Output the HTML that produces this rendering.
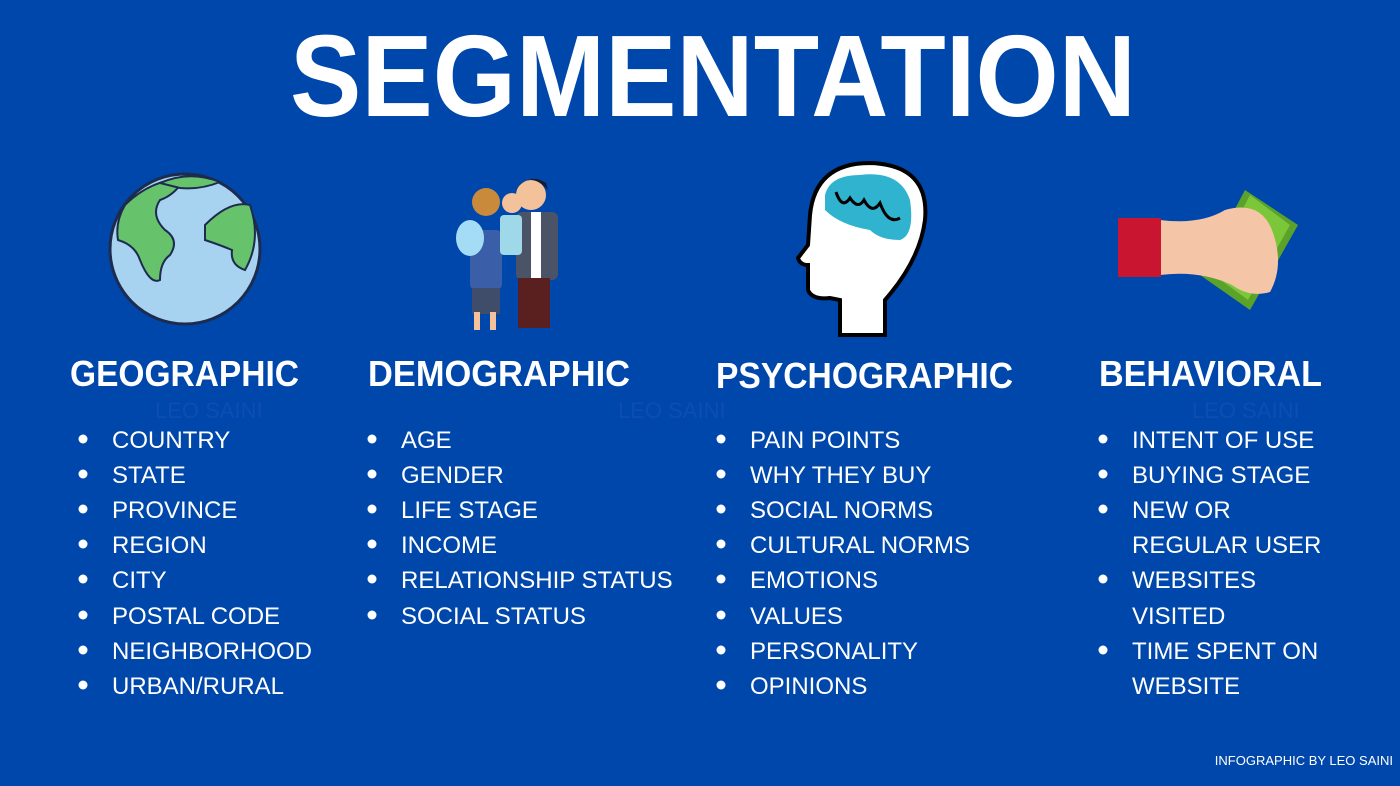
<!DOCTYPE html>
<html><head><meta charset="utf-8"><style>
html,body{margin:0;padding:0;background:#0047ab;}
svg{display:block}
text{font-family:"Liberation Sans",sans-serif;}
</style></head><body>
<svg width="1400" height="786" viewBox="0 0 1400 786" xmlns="http://www.w3.org/2000/svg">
<rect width="1400" height="786" fill="#0047ab"/>
<text x="290" y="116" font-size="116" font-weight="bold" fill="#fff" textLength="846" lengthAdjust="spacingAndGlyphs">SEGMENTATION</text>

<!-- globe -->
<circle cx="185" cy="249" r="75" fill="#a7d3f0" stroke="#1d2b4f" stroke-width="3"/>
<path d="M125 205 Q150 180 185 178 Q175 195 160 200 Q150 215 165 230 Q180 240 170 255 Q160 262 160 280 Q150 285 140 260 Q135 245 118 240 Q115 222 125 205Z" fill="#67c36b" stroke="#1d2b4f" stroke-width="2"/>
<path d="M205 225 Q230 200 250 205 Q262 240 245 270 Q230 265 232 250 Q220 245 205 240Z" fill="#67c36b" stroke="#1d2b4f" stroke-width="2"/>
<path d="M160 183 Q190 170 220 182 Q200 190 180 188Z" fill="#67c36b" stroke="#1d2b4f" stroke-width="2"/>

<!-- family -->
<g>
<circle cx="486" cy="202" r="14" fill="#c98a3c"/>
<rect x="470" y="230" width="32" height="60" rx="6" fill="#3a5fa8"/>
<rect x="472" y="288" width="28" height="26" fill="#3f4d6b"/>
<rect x="474" y="312" width="6" height="18" fill="#f3c19a"/><rect x="490" y="312" width="6" height="18" fill="#f3c19a"/>
<ellipse cx="470" cy="238" rx="14" ry="18" fill="#a5dcf5"/>
<circle cx="531" cy="195" r="15" fill="#f3c19a"/><path d="M515 190 Q530 170 548 190 L546 183 Q530 172 515 190Z" fill="#1a1a2a"/>
<rect x="516" y="212" width="42" height="68" rx="6" fill="#4a5466"/>
<rect x="531" y="212" width="10" height="68" fill="#fff"/>
<rect x="518" y="278" width="32" height="50" fill="#5a2020"/>
<circle cx="512" cy="203" r="10" fill="#f3c19a"/>
<rect x="500" y="215" width="22" height="40" rx="4" fill="#9fd8e8"/>
</g>

<!-- head -->
<path d="M885 335 L885 300 Q920 260 925 220 Q930 165 870 163 Q815 163 810 215 L808 245 L798 258 Q800 265 808 265 L808 290 Q812 300 830 298 L840 300 L840 335Z" fill="#fff" stroke="#000" stroke-width="4"/>
<path d="M825 195 Q830 175 860 175 Q900 170 910 200 Q915 235 900 240 Q880 240 870 230 Q840 225 825 210Z" fill="#2fb3cf"/>
<path d="M836 192 Q842 210 850 198 Q858 210 864 200 Q872 215 880 203 Q888 225 900 218" fill="none" stroke="#000" stroke-width="3"/>

<!-- hand money -->
<polygon points="1245,190 1298,225 1250,310 1200,275" fill="#5aa22a"/>
<polygon points="1250,195 1290,225 1248,300 1210,272" fill="#7cc63a"/>
<path d="M1160 220 Q1200 225 1225 210 Q1260 200 1272 230 Q1285 265 1270 292 Q1250 298 1232 285 Q1200 270 1160 275Z" fill="#f5c5a8"/>
<rect x="1118" y="218" width="43" height="59" fill="#c9152f"/>

<g font-weight="bold" fill="#fff" font-size="36">
<text x="70" y="386" textLength="229" lengthAdjust="spacingAndGlyphs">GEOGRAPHIC</text>
<text x="368" y="386" textLength="262" lengthAdjust="spacingAndGlyphs">DEMOGRAPHIC</text>
<text x="716" y="388" textLength="297" lengthAdjust="spacingAndGlyphs">PSYCHOGRAPHIC</text>
<text x="1099" y="386" textLength="223" lengthAdjust="spacingAndGlyphs">BEHAVIORAL</text>
</g>
<g fill="#0c4eb2" font-size="22">
<text x="155" y="418">LEO SAINI</text>
<text x="618" y="418">LEO SAINI</text>
<text x="1192" y="418">LEO SAINI</text>
</g>

<g fill="#fff" font-size="24">
<g>
<text x="112" y="448">COUNTRY</text><text x="112" y="483">STATE</text><text x="112" y="518">PROVINCE</text><text x="112" y="553">REGION</text><text x="112" y="588">CITY</text><text x="112" y="624">POSTAL CODE</text><text x="112" y="659">NEIGHBORHOOD</text><text x="112" y="694">URBAN/RURAL</text>
</g>
<g>
<text x="401" y="448">AGE</text><text x="401" y="483">GENDER</text><text x="401" y="518">LIFE STAGE</text><text x="401" y="553">INCOME</text><text x="401" y="588">RELATIONSHIP STATUS</text><text x="401" y="624">SOCIAL STATUS</text>
</g>
<g>
<text x="750" y="448">PAIN POINTS</text><text x="750" y="483">WHY THEY BUY</text><text x="750" y="518">SOCIAL NORMS</text><text x="750" y="553">CULTURAL NORMS</text><text x="750" y="588">EMOTIONS</text><text x="750" y="624">VALUES</text><text x="750" y="659">PERSONALITY</text><text x="750" y="694">OPINIONS</text>
</g>
<g>
<text x="1132" y="448">INTENT OF USE</text><text x="1132" y="483">BUYING STAGE</text><text x="1132" y="518">NEW OR</text><text x="1132" y="553">REGULAR USER</text><text x="1132" y="588">WEBSITES</text><text x="1132" y="624">VISITED</text><text x="1132" y="659">TIME SPENT ON</text><text x="1132" y="694">WEBSITE</text>
</g>
</g>
<g fill="#fff">
<circle cx="83" cy="439" r="4.5"/><circle cx="83" cy="474" r="4.5"/><circle cx="83" cy="509" r="4.5"/><circle cx="83" cy="544" r="4.5"/><circle cx="83" cy="579" r="4.5"/><circle cx="83" cy="615" r="4.5"/><circle cx="83" cy="650" r="4.5"/><circle cx="83" cy="685" r="4.5"/>
<circle cx="372" cy="439" r="4.5"/><circle cx="372" cy="474" r="4.5"/><circle cx="372" cy="509" r="4.5"/><circle cx="372" cy="544" r="4.5"/><circle cx="372" cy="579" r="4.5"/><circle cx="372" cy="615" r="4.5"/>
<circle cx="721" cy="439" r="4.5"/><circle cx="721" cy="474" r="4.5"/><circle cx="721" cy="509" r="4.5"/><circle cx="721" cy="544" r="4.5"/><circle cx="721" cy="579" r="4.5"/><circle cx="721" cy="615" r="4.5"/><circle cx="721" cy="650" r="4.5"/><circle cx="721" cy="685" r="4.5"/>
<circle cx="1103" cy="439" r="4.5"/><circle cx="1103" cy="474" r="4.5"/><circle cx="1103" cy="509" r="4.5"/><circle cx="1103" cy="579" r="4.5"/><circle cx="1103" cy="650" r="4.5"/>
</g>
<text x="1393" y="765" text-anchor="end" fill="#fff" font-size="13">INFOGRAPHIC BY LEO SAINI</text>
</svg>
</body></html>
